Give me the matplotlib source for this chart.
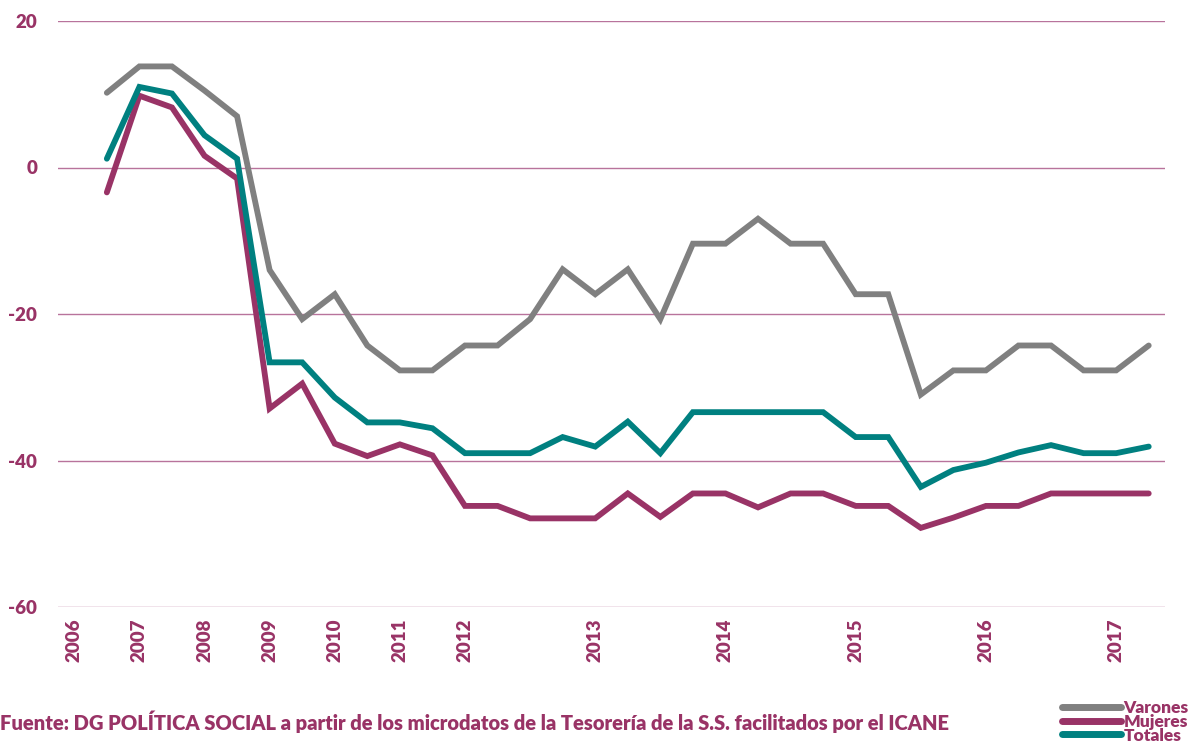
import numpy as np
import matplotlib
matplotlib.use("Agg")
import matplotlib.pyplot as plt

# quarterly categories; first slot (2006) has no data
n_cat = 34
tick_pos = [0, 2, 4, 6, 8, 10, 12, 16, 20, 24, 28, 32]
tick_labels = ["2006", "2007", "2008", "2009", "2010", "2011",
               "2012", "2013", "2014", "2015", "2016", "2017"]

varones = [10.2, 13.8, 13.8, 10.5, 7.0, -14.0, -20.7, -17.3, -24.3, -27.7, -27.7,
           -24.3, -24.3, -20.7, -13.9, -17.3, -13.9, -20.7, -10.4, -10.4, -7.0,
           -10.4, -10.4, -17.3, -17.3, -31.0, -27.7, -27.7, -24.3, -24.3, -27.7,
           -27.7, -24.3]
mujeres = [-3.4, 9.8, 8.2, 1.6, -1.5, -32.9, -29.5, -37.7, -39.4, -37.8, -39.3,
           -46.2, -46.2, -47.9, -47.9, -47.9, -44.5, -47.7, -44.5, -44.5, -46.4,
           -44.5, -44.5, -46.2, -46.2, -49.2, -47.8, -46.2, -46.2, -44.5, -44.5,
           -44.5, -44.5]
totales = [1.2, 11.0, 10.1, 4.4, 1.2, -26.6, -26.6, -31.4, -34.8, -34.8, -35.6,
           -39.0, -39.0, -39.0, -36.8, -38.1, -34.7, -39.0, -33.4, -33.4, -33.4,
           -33.4, -33.4, -36.8, -36.8, -43.6, -41.3, -40.3, -38.9, -37.9, -39.0,
           -39.0, -38.1]

GREY = "#808080"
MAG = "#993366"
TEAL = "#008080"
FONT = "Lato"

x = np.arange(1, len(varones) + 1)

fig = plt.figure(figsize=(11.92, 7.47), dpi=100)
ax = fig.add_axes([58 / 1192, 1 - 607 / 747, (1165 - 58) / 1192, (607 - 21) / 747])

for v in [20, 0, -20, -40, -60]:
    ax.axhline(v, color="#b8739c", lw=1.0, zorder=1)

lw = 4.2
ax.plot(x, varones, color=GREY, lw=lw, solid_capstyle="round", solid_joinstyle="miter", label="Varones", zorder=3)
ax.plot(x, mujeres, color=MAG, lw=lw, solid_capstyle="round", solid_joinstyle="miter", label="Mujeres", zorder=3)
ax.plot(x, totales, color=TEAL, lw=lw, solid_capstyle="round", solid_joinstyle="miter", label="Totales", zorder=3)

ax.set_xlim(-0.5, n_cat - 0.5)
ax.set_ylim(-60, 20)
ax.set_yticks([20, 0, -20, -40, -60])
ax.set_yticklabels(["20", "0", "-20", "-40", "-60"])
ax.set_xticks(tick_pos)
ax.set_xticklabels(tick_labels, rotation=90)
for s in ax.spines.values():
    s.set_visible(False)
ax.tick_params(length=0)
ax.tick_params(axis="y", pad=15)
ax.tick_params(axis="x", pad=8)
for lab in ax.get_xticklabels() + ax.get_yticklabels():
    lab.set_color(MAG)
    lab.set_fontweight("heavy")
    lab.set_fontfamily(FONT)
    lab.set_fontsize(13.5)

fig.text(0.0, 1 - 722 / 747, "Fuente: DG POLÍTICA SOCIAL a partir de los microdatos de la Tesorería de la S.S. facilitados por el ICANE",
         color=MAG, fontweight="heavy", fontfamily=FONT, fontsize=14.5, va="center", ha="left")

leg = fig.legend(loc="lower right", bbox_to_anchor=(1.0, 0.0), frameon=False,
                 prop={"family": FONT, "weight": "heavy", "size": 12.5},
                 handlelength=3.4, handletextpad=0.15, labelspacing=-0.12,
                 borderaxespad=0.1, borderpad=0.1)
for t in leg.get_texts():
    t.set_color(MAG)
for h in leg.get_lines():
    h.set_linewidth(5)

fig.savefig("out.png", dpi=100)
